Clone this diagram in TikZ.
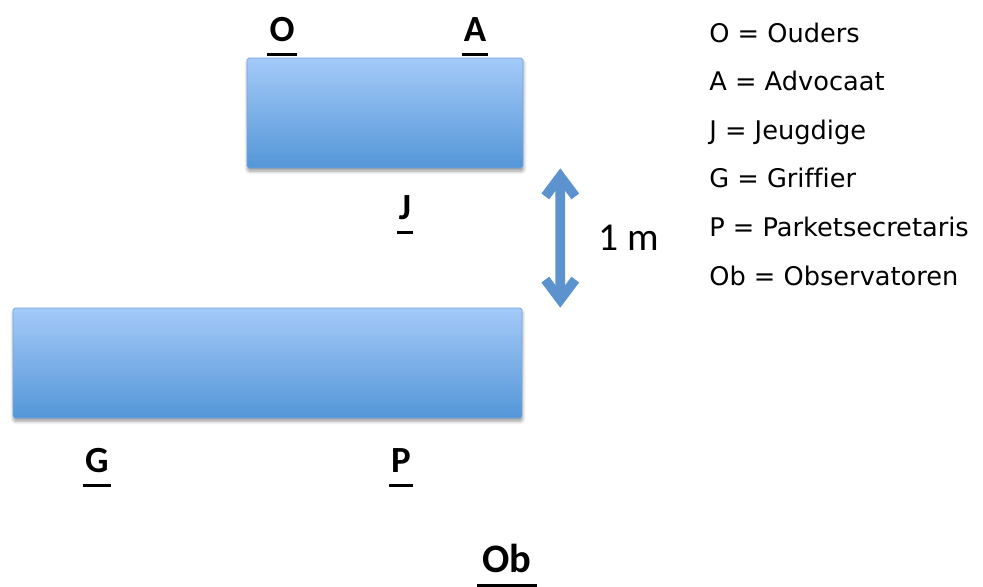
\documentclass[tikz,border=0pt]{standalone}
\usepackage{fontspec}
\setmainfont{Carlito}
\newfontfamily\legendefont[Ligatures=NoCommon]{DejaVu Sans}
\usetikzlibrary{arrows.meta,shadows.blur}
\definecolor{tafelhaut}{RGB}{164,202,248}
\definecolor{tafelbas}{RGB}{84,150,216}
\definecolor{tafelrand}{RGB}{118,164,220}
\definecolor{pijlblauw}{RGB}{92,146,206}

\begin{document}
\begin{tikzpicture}[x=0.02cm,y=-0.02cm]  % une unite = un pixel
\tikzstyle{tafel}=[rectangle,draw=tafelrand,line width=0.4pt,rounded corners=1pt,top color=tafelhaut,bottom color=tafelbas,blur shadow={shadow xshift=0.3pt,shadow yshift=-1.8pt,shadow blur steps=6}]
\tikzstyle{letter}=[font=\bfseries\fontsize{21}{21}\selectfont,anchor=base,text depth=0pt,inner xsep=1pt,inner ysep=7.5pt,append after command={(\tikzlastnode.south west) edge[line width=1.6pt] (\tikzlastnode.south east)}]
\tikzstyle{legende}=[font=\legendefont\fontsize{14.6}{14.6}\selectfont,anchor=base west,inner sep=0pt]
\useasboundingbox (0,0) rectangle (983,586);
% les tables
\node[tafel,minimum width=5.52cm,minimum height=2.2cm] (boventafel) at (385,113) {};
\node[tafel,minimum width=10.18cm,minimum height=2.2cm] (ondertafel) at (267.5,363) {};
% les places
\node[letter] (ouders) at (282,41) {O};
\node[letter] (advocaat) at (475,41) {A};
\node[letter] (jeugdige) at (405,219) {J};
\node[letter] (griffier) at (97,472) {G};
\node[letter] (parket) at (401,472) {P};
\node[letter,font=\bfseries\fontsize{23}{23}\selectfont,inner xsep=3pt] (observatoren) at (507,572) {Ob};
% la distance
\draw[pijlblauw,line width=5.5pt,{Straight Barb[length=0.4cm,width=0.6cm]}-{Straight Barb[length=0.4cm,width=0.6cm]}]
  ([xshift=0.74cm]boventafel.south east) -- ([xshift=0.76cm]ondertafel.north east)
  node[midway,anchor=west,xshift=0.66cm,inner sep=0pt,text=black,font=\fontsize{22.5}{22.5}\selectfont] (afstand) {1 m};
% la legende
\foreach \texte [count=\i] in {O = Ouders, A = Advocaat, J = Jeugdige, G = Griffier, P = Parketsecretaris, Ob = Observatoren}
  \node[legende] (legende\i) at (709,{42+48.6*(\i-1)}) {\texte};
\end{tikzpicture}
\end{document}
